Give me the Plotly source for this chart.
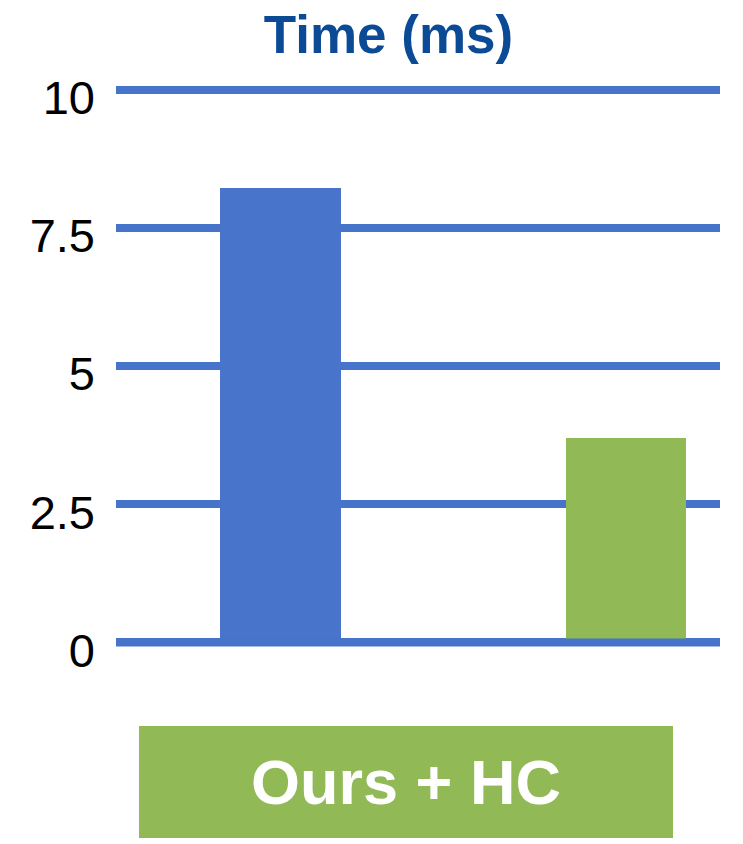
import plotly.graph_objects as go

# ---- data ----
categories = ["Baseline", "Ours + HC"]
time_ms = [8.22, 3.69]
bar_colors = ["#4874CB", "#91BA57"]
tick_vals = [0, 2.5, 5, 7.5, 10]
tick_text = ["0", "2.5", "5", "7.5", "10"]
title_text = "Time (ms)"
label_text = categories[1]

GRID = "#4674CB"
FONT = "Liberation Sans, Arial, sans-serif"

fig = go.Figure()
fig.add_trace(go.Bar(
    x=categories, y=time_ms,
    marker=dict(color=bar_colors, line=dict(width=0)),
    width=0.35,
    showlegend=False,
))

fig.update_layout(
    width=743, height=844,
    margin=dict(l=108, r=31, t=76, b=204),
    paper_bgcolor="white", plot_bgcolor="white",
    title=dict(
        text=f"<b>{title_text}</b>",
        font=dict(family=FONT, size=53, color="#0B4A94"),
        x=380.5 / 743, xref="container", xanchor="center",
        y=1 - 26 / 844, yref="container", yanchor="middle",
    ),
    xaxis=dict(
        type="category",
        range=[-0.476, 1.272],
        showticklabels=False, showgrid=False, zeroline=False,
        showline=False, ticks="",
    ),
    yaxis=dict(
        range=[-0.1, 10.1],
        tickvals=tick_vals, ticktext=tick_text,
        tickfont=dict(family=FONT, size=47, color="black"),
        showgrid=True, gridcolor=GRID, gridwidth=8,
        zeroline=False, showline=False, ticks="",
        ticklabelstandoff=20, ticklabelshift=8,
    ),
    bargap=0,
)

# baseline at zero drawn over the bars
fig.add_shape(type="line", xref="paper", x0=0, x1=1, yref="y", y0=0, y1=0,
              line=dict(color=GRID, width=8), layer="above")

# label box
fig.add_annotation(
    text=f"<b>{label_text}</b>",
    xref="paper", yref="paper",
    x=(406 - 116) / 604, y=1 - (782 - 84) / 564,
    xanchor="center", yanchor="middle",
    width=534, height=112, borderpad=0, borderwidth=0,
    bgcolor="#91BA57", showarrow=False,
    align="center", valign="middle",
    font=dict(family=FONT, size=63, color="white"),
)

fig.write_html("out.html")
